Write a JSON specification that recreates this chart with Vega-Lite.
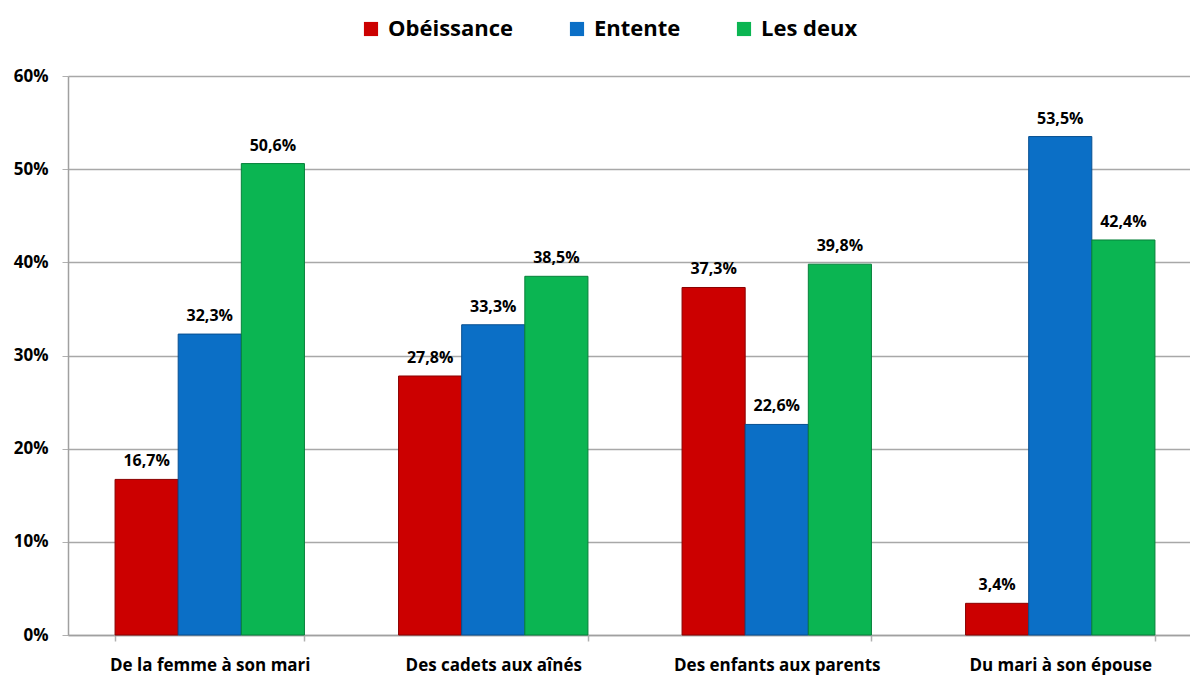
{
  "$schema": "https://vega.github.io/schema/vega-lite/v6.json",
  "autosize": {"type": "none"},
  "padding": {"left": 68, "top": 76, "right": 0, "bottom": 43},
  "width": 1122,
  "height": 559,
  "background": "white",
  "config": {
    "locale": {"number": {"decimal": ",", "thousands": " ", "grouping": [3], "currency": ["", " €"]}},
    "font": "Open Sans",
    "view": {"stroke": null}
  },
  "data": {
    "values": [
      {"rel": "De la femme à son mari", "serie": "Obéissance", "v": 0.167},
      {"rel": "De la femme à son mari", "serie": "Entente", "v": 0.323},
      {"rel": "De la femme à son mari", "serie": "Les deux", "v": 0.506},
      {"rel": "Des cadets aux aînés", "serie": "Obéissance", "v": 0.278},
      {"rel": "Des cadets aux aînés", "serie": "Entente", "v": 0.333},
      {"rel": "Des cadets aux aînés", "serie": "Les deux", "v": 0.385},
      {"rel": "Des enfants aux parents", "serie": "Obéissance", "v": 0.373},
      {"rel": "Des enfants aux parents", "serie": "Entente", "v": 0.226},
      {"rel": "Des enfants aux parents", "serie": "Les deux", "v": 0.398},
      {"rel": "Du mari à son épouse", "serie": "Obéissance", "v": 0.034},
      {"rel": "Du mari à son épouse", "serie": "Entente", "v": 0.535},
      {"rel": "Du mari à son épouse", "serie": "Les deux", "v": 0.424}
    ]
  },
  "encoding": {
    "x": {
      "field": "rel", "type": "nominal", "sort": null,
      "scale": {"range": [0, 1134], "paddingInner": 0.332, "paddingOuter": 0.166},
      "axis": {
        "title": null, "labelAngle": 0, "labelFontSize": 17, "labelFontWeight": "bold",
        "labelColor": "#000000", "labelPadding": 16, "labelLimit": 400, "tickBand": "extent", "tickSize": 6,
        "tickColor": "#b0b0b0", "tickWidth": 1.5, "domainColor": "#a0a0a0", "domainWidth": 1.5
      }
    },
    "xOffset": {
      "field": "serie", "type": "nominal",
      "sort": ["Obéissance", "Entente", "Les deux"],
      "scale": {"paddingInner": 0, "paddingOuter": 0}
    },
    "y": {
      "field": "v", "type": "quantitative",
      "scale": {"domain": [0, 0.6], "nice": false},
      "axis": {
        "title": null, "format": ".0%", "values": [0, 0.1, 0.2, 0.3, 0.4, 0.5, 0.6],
        "labelFontSize": 17, "labelFontWeight": "bold", "labelColor": "#000000",
        "labelPadding": 14, "tickSize": 6, "tickColor": "#b0b0b0",
        "domainColor": "#a0a0a0", "domainWidth": 1.5,
        "gridColor": "#a8a8a8", "gridWidth": 1.5
      }
    }
  },
  "layer": [
    {
      "mark": {"type": "bar", "strokeWidth": 1},
      "encoding": {
        "color": {
          "field": "serie", "type": "nominal",
          "sort": ["Obéissance", "Entente", "Les deux"],
          "scale": {"domain": ["Obéissance", "Entente", "Les deux"], "range": ["#cc0000", "#0b6fc6", "#0bb552"]},
          "legend": {
            "orient": "none", "legendX": 292, "legendY": -58, "direction": "horizontal",
            "title": null, "symbolType": "square", "symbolSize": 200, "symbolStrokeWidth": 0,
            "labelFontSize": 22, "labelFontWeight": "bold", "labelColor": "#000000",
            "columnPadding": 52, "labelOffset": 6, "labelLimit": 300
          }
        },
        "stroke": {
          "field": "serie", "type": "nominal",
          "scale": {"domain": ["Obéissance", "Entente", "Les deux"], "range": ["#8a0000", "#074f90", "#07803a"]},
          "legend": null
        }
      }
    },
    {
      "mark": {"type": "text", "dy": -18, "fontSize": 16, "fontWeight": "bold", "color": "#000000"},
      "encoding": {
        "text": {"field": "v", "type": "quantitative", "format": ".1%"}
      }
    }
  ]
}
